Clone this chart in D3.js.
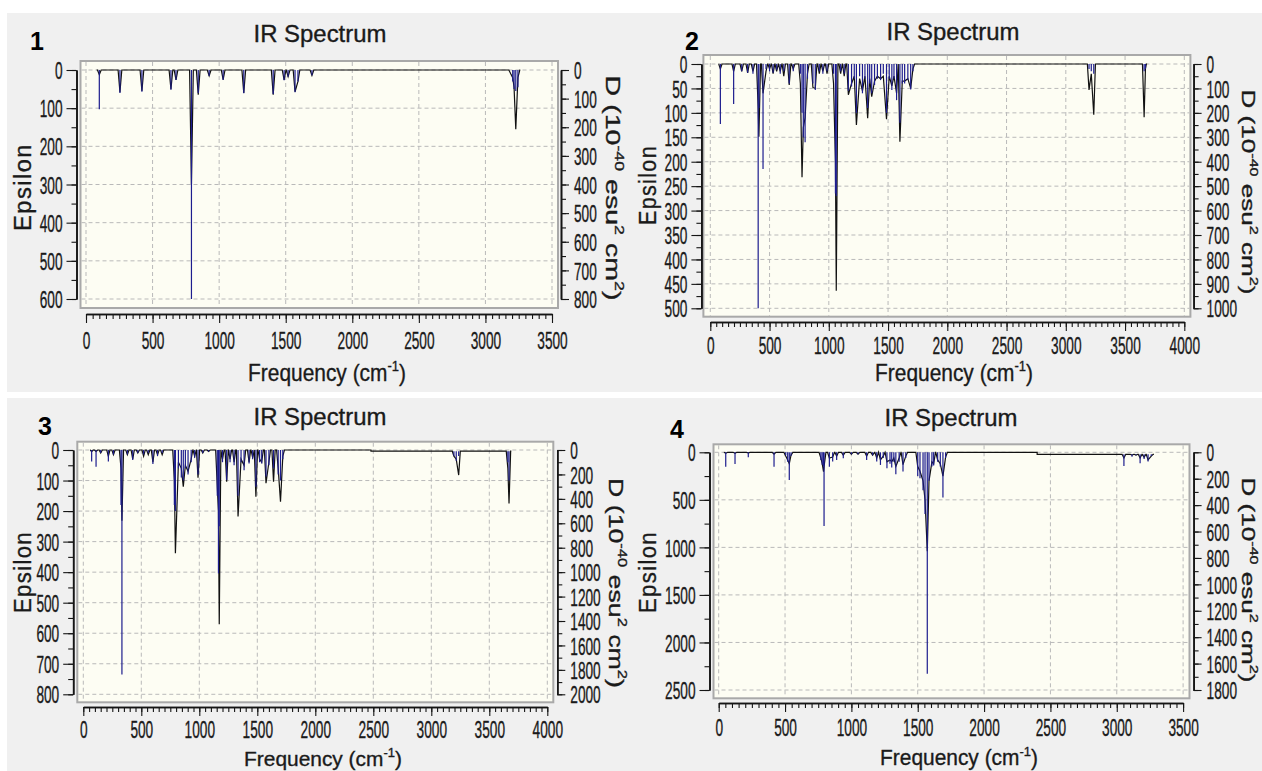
<!DOCTYPE html>
<html>
<head>
<meta charset="utf-8">
<script src="https://cdn.jsdelivr.net/npm/d3@7"></script>
<style>
  body { margin: 0; background: #fff; }
  svg { display: block; }
  text { font-family: "Liberation Sans", Arial, sans-serif; fill: #1a1a1a; }
  .heavy { stroke: #1a1a1a; stroke-width: 0.35px; }
</style>
</head>
<body>
<script>
// ---- data (frequency in cm-1, epsilon) ----
// 1
var freq1  = [100, 255, 420, 638, 676, 792, 843, 925, 1030, 1185, 1406, 1488, 1518, 1570, 1592, 1697, 3190, 3205, 3215, 3228, 3244];
var stick1 = [103, 60, 57, 52, 26, 600, 60, 16, 26, 61, 63, 27, 18, 58, 30, 14, 0, 30, 50, 55, 45];
var curve1 = [12, 58, 55, 50, 26, 300, 65, 15, 25, 60, 65, 26, 17, 57, 30, 14, 10, 20, 45, 155, 20];
var range1 = [80, 3262];
var step1  = [];
// 2
var freq2  = [85, 197, 265, 315, 360, 404, 410, 445, 470, 500, 530, 560, 590, 620, 666, 700, 760, 774, 785, 800, 820, 866, 886, 920, 950, 985, 1040, 1056, 1063, 1100, 1130, 1165, 1192, 1215, 1233, 1260, 1284, 1305, 1328, 1345, 1362, 1386, 1410, 1437, 1460, 1487, 1510, 1532, 1550, 1572, 1600, 1620, 1640, 1667, 1691, 1710, 3196, 3215, 3236, 3661, 3672];
var stick2 = [123, 82, 15, 18, 20, 500, 90, 215, 10, 15, 18, 12, 20, 15, 40, 15, 20, 100, 150, 160, 30, 40, 53, 15, 20, 15, 20, 265, 270, 15, 20, 55, 46, 30, 100, 25, 60, 30, 90, 40, 60, 43, 30, 33, 20, 100, 30, 53, 30, 74, 120, 40, 40, 33, 52, 15, 10, 15, 20, 15, 10];
var curve2 = [10, 15, 15, 18, 15, 90, 149, 60, 15, 10, 20, 15, 15, 25, 43, 10, 40, 232, 130, 110, 20, 48, 50, 20, 15, 20, 40, 200, 464, 20, 25, 63, 40, 25, 125, 30, 55, 25, 111, 30, 67, 35, 25, 30, 25, 113, 25, 45, 25, 60, 159, 35, 35, 30, 50, 10, 53, 20, 104, 109, 10];
var range2 = [70, 3680];
var step2  = [];
// 3
var freq3  = [72, 110, 150, 216, 260, 325, 333, 380, 426, 470, 520, 560, 600, 640, 680, 785, 794, 820, 845, 862, 880, 903, 930, 960, 989, 1030, 1080, 1155, 1165, 1172, 1200, 1236, 1265, 1300, 1334, 1360, 1386, 1429, 1460, 1488, 1520, 1538, 1575, 1600, 1640, 1680, 1700, 1720, 3195, 3215, 3236, 3660, 3670];
var stick3 = [38, 55, 10, 38, 15, 180, 735, 15, 33, 10, 15, 10, 46, 20, 10, 180, 200, 60, 90, 100, 60, 80, 40, 25, 80, 10, 5, 150, 404, 250, 40, 98, 40, 50, 150, 40, 66, 44, 30, 120, 40, 44, 87, 50, 60, 80, 100, 30, 20, 35, 20, 40, 100];
var curve3 = [5, 5, 10, 20, 15, 60, 232, 15, 30, 10, 20, 15, 40, 15, 15, 100, 338, 40, 60, 120, 50, 70, 30, 20, 91, 10, 5, 120, 200, 571, 30, 104, 30, 40, 218, 30, 50, 40, 25, 153, 30, 40, 109, 40, 104, 60, 169, 20, 20, 30, 82, 60, 175];
var range3 = [60, 3690];
var step3  = [[2480, 4]];
// 4
var freq4  = [53, 123, 223, 417, 505, 520, 532, 545, 770, 780, 790, 794, 834, 859, 889, 939, 1000, 1050, 1115, 1160, 1191, 1219, 1240, 1268, 1291, 1304, 1320, 1335, 1360, 1389, 1410, 1500, 1517, 1540, 1555, 1572, 1585, 1607, 1620, 1650, 1670, 1690, 1710, 3054, 3115, 3145, 3176, 3206, 3236, 3260];
var stick4 = [151, 123, 53, 151, 30, 100, 291, 40, 80, 130, 150, 775, 151, 98, 81, 63, 20, 20, 81, 30, 98, 133, 60, 168, 120, 161, 100, 231, 100, 203, 60, 250, 273, 400, 650, 2330, 300, 150, 140, 100, 150, 475, 60, 144, 46, 30, 116, 70, 98, 40];
var curve4 = [10, 10, 5, 20, 40, 80, 120, 30, 60, 120, 203, 150, 60, 50, 40, 30, 20, 20, 40, 30, 60, 80, 40, 100, 80, 100, 60, 150, 60, 130, 40, 150, 200, 300, 500, 1040, 300, 100, 120, 80, 120, 250, 50, 60, 30, 30, 60, 50, 80, 40];
var range4 = [40, 3280];
var step4  = [[2400, 21]];

// tick labels
var xTicks1 = [0, 500, 1000, 1500, 2000, 2500, 3000, 3500];
var xTicks2 = [0, 500, 1000, 1500, 2000, 2500, 3000, 3500, 4000];
var epsTicks1 = [0, 100, 200, 300, 400, 500, 600];
var epsTicks2 = [0, 50, 100, 150, 200, 250, 300, 350, 400, 450, 500];
var epsTicks3 = [0, 100, 200, 300, 400, 500, 600, 700, 800];
var epsTicks4 = [0, 500, 1000, 1500, 2000, 2500];
var dTicks1 = [0, 100, 200, 300, 400, 500, 600, 700, 800];
var dTicks2 = [0, 100, 200, 300, 400, 500, 600, 700, 800, 900, 1000];
var dTicks3 = [0, 200, 400, 600, 800, 1000, 1200, 1400, 1600, 1800, 2000];
var dTicks4 = [0, 200, 400, 600, 800, 1000, 1200, 1400, 1600, 1800];

// ---- layout ----
var W = 1262, H = 771;
var tickFont = 24, squeeze = 0.57, hw = 14;

var panels = [
  { num: "1", freq: freq1, stick: stick1, curve: curve1, range: range1, step: step1,
    xTicks: xTicks1, epsTicks: epsTicks1, dTicks: dTicks1, xMinor: 50, epsMinor: 50, dMinor: 50,
    box: [80.5, 61, 558, 308], xr: [86, 552], yr: [70, 299], leftX: 76.5, rightX: 561, bottomY: 314, xLabOff: 26,
    title: [320, 42], numPos: [30, 50], eps: [31, 187, 88], dLab: [606, 188, 225, 21], freqLab: [327, 381, 24] },
  { num: "2", freq: freq2, stick: stick2, curve: curve2, range: range2, step: step2,
    xTicks: xTicks2, epsTicks: epsTicks2, dTicks: dTicks2, xMinor: 50, epsMinor: 25, dMinor: 50,
    box: [703.4, 55, 1190.4, 316.7], xr: [710.3, 1184.3], yr: [64, 308.3], leftX: 701.4, rightX: 1193.6, bottomY: 322, xLabOff: 23,
    title: [953, 40], numPos: [685, 50], eps: [656, 185, 80], dLab: [1242, 192, 205, 19], freqLab: [954, 381, 24] },
  { num: "3", freq: freq3, stick: stick3, curve: curve3, range: range3, step: step3,
    xTicks: xTicks2, epsTicks: epsTicks3, dTicks: dTicks3, xMinor: 50, epsMinor: 50, dMinor: 100,
    box: [77.3, 441.7, 553.3, 702.3], xr: [83.3, 547.3], yr: [450, 694.3], leftX: 73.2, rightX: 557.3, bottomY: 707, xLabOff: 22,
    title: [320, 425], numPos: [38, 435], eps: [31, 572, 82], dLab: [609, 583, 210, 21], freqLab: [323, 766, 21] },
  { num: "4", freq: freq4, stick: stick4, curve: curve4, range: range4, step: step4,
    xTicks: xTicks1, epsTicks: epsTicks4, dTicks: dTicks4, xMinor: 50, epsMinor: 250, dMinor: 100,
    box: [713.5, 444.3, 1189.5, 698.3], xr: [718.7, 1183.1], yr: [452.3, 690], leftX: 709.5, rightX: 1193.6, bottomY: 703, xLabOff: 24,
    title: [951, 426], numPos: [670, 438], eps: [656, 572, 82], dLab: [1242, 580, 205, 19], freqLab: [959, 765, 22] }
];

var svg = d3.select("body").append("svg").attr("width", W).attr("height", H);
svg.append("rect").attr("width", W).attr("height", H).attr("fill", "#fff");
svg.append("rect").attr("x", 7).attr("y", 13).attr("width", W - 7).attr("height", 379).attr("fill", "#f0f0f0");
svg.append("rect").attr("x", 7).attr("y", 398).attr("width", W - 7).attr("height", H - 398).attr("fill", "#f0f0f0");

// text made of pieces; pieces marked sup are raised and smaller,
// the piece after a sup drops back to the baseline
function richText(g, parts, size) {
  var t = g.append("text").attr("font-size", size).attr("class", "heavy");
  var raised = false;
  parts.forEach(function(p) {
    var ts = t.append("tspan").text(p.s);
    if (p.sup) {
      ts.attr("font-size", size * 0.62).attr("dy", -size * 0.42);
      raised = true;
    } else if (raised) {
      ts.attr("dy", size * 0.42);
      raised = false;
    }
  });
  return t;
}

// squeeze/stretch a text to a given length along its own direction
function fitLength(t, x, y, rot, len) {
  var w = t.node().getComputedTextLength();
  t.attr("transform", "translate(" + x + "," + y + ") rotate(" + rot + ") scale(" + (len / w) + ",1)");
}

function squeezeTicks(axisG, yOverride) {
  axisG.selectAll("text").each(function() {
    var t = d3.select(this);
    var tx = +t.attr("x") || 0;
    var ty = yOverride != null ? yOverride : (+t.attr("y") || 0);
    t.attr("x", null).attr("y", null).attr("dy", "0.36em")
      .attr("font-size", tickFont).attr("class", "heavy")
      .attr("transform", "translate(" + tx + "," + ty + ") scale(" + squeeze + ",1)");
  });
}

function styleAxis(axisG) {
  axisG.attr("color", "#151515").attr("font-size", null).attr("font-family", null);
  axisG.select(".domain").attr("stroke-width", 1.6);
  axisG.selectAll(".tick line").attr("stroke-width", 1.1);
}

// minor tick marks only (no labels)
function minorAxis(axisG) {
  styleAxis(axisG);
  axisG.selectAll(".tick text").remove();
}

var fmt = d3.format("d");

panels.forEach(function(p) {
  var g = svg.append("g");
  var xMax = p.xTicks[p.xTicks.length - 1];
  var epsMax = p.epsTicks[p.epsTicks.length - 1];
  var dMax = p.dTicks[p.dTicks.length - 1];
  var x = d3.scaleLinear().domain([0, xMax]).range(p.xr);
  var y = d3.scaleLinear().domain([0, epsMax]).range(p.yr);
  var yD = d3.scaleLinear().domain([0, dMax]).range(p.yr);
  var b = p.box;

  // plot area
  g.append("rect").attr("x", b[0]).attr("y", b[1]).attr("width", b[2] - b[0]).attr("height", b[3] - b[1])
    .attr("fill", "#fdfdf3").attr("stroke", "#a9a9a9").attr("stroke-width", 2);

  // grid
  g.append("g").selectAll("line").data(p.xTicks).join("line")
    .attr("x1", function(d) { return x(d); }).attr("x2", function(d) { return x(d); })
    .attr("y1", b[1] + 1).attr("y2", b[3] - 1)
    .attr("stroke", "#b9b9b9").attr("stroke-dasharray", "4,3");
  g.append("g").selectAll("line").data(p.epsTicks).join("line")
    .attr("y1", function(d) { return y(d); }).attr("y2", function(d) { return y(d); })
    .attr("x1", b[0] + 1).attr("x2", b[2] - 1)
    .attr("stroke", "#b9b9b9").attr("stroke-dasharray", "4,3");

  // baseline level (small steps in the broadened curve)
  function base(f) {
    var v = 0;
    p.step.forEach(function(s) { if (f >= s[0]) v = s[1]; });
    return v;
  }

  // broadened curve: a narrow dip at each band
  var pts = [[p.range[0], base(p.range[0])]];
  var dips = p.freq.map(function(f, i) { return [f, p.curve[i]]; }).filter(function(d) { return d[1] > 0; });
  dips.forEach(function(d, i) {
    var prev = dips[i - 1], next = dips[i + 1];
    if (!prev || d[0] - prev[0] >= 2 * hw) pts.push([d[0] - hw, base(d[0] - hw)]);
    pts.push([d[0], Math.max(d[1], base(d[0]))]);
    if (!next || next[0] - d[0] >= 2 * hw) pts.push([d[0] + hw, base(d[0] + hw)]);
  });
  p.step.forEach(function(s) {
    pts.push([s[0], base(s[0] - 1)]);
    pts.push([s[0], s[1]]);
  });
  pts.push([p.range[1], base(p.range[1])]);
  pts.sort(function(a, c) { return a[0] - c[0]; });

  var line = d3.line().x(function(d) { return x(d[0]); }).y(function(d) { return y(d[1]); });
  g.append("path").datum(pts).attr("d", line)
    .attr("fill", "none").attr("stroke", "#111").attr("stroke-width", 1.2);

  // sticks
  g.append("g").selectAll("line").data(p.freq.map(function(f, i) { return [f, p.stick[i]]; }).filter(function(d) { return d[1] > 0; }))
    .join("line")
    .attr("x1", function(d) { return x(d[0]); }).attr("x2", function(d) { return x(d[0]); })
    .attr("y1", function(d) { return y(base(d[0])); }).attr("y2", function(d) { return y(d[1]); })
    .attr("stroke", "#1d1d8e").attr("stroke-width", 1.2);

  // left axis (epsilon)
  var lm = g.append("g").attr("transform", "translate(" + p.leftX + ",0)")
    .call(d3.axisLeft(y).tickValues(d3.range(0, epsMax + 1e-9, p.epsMinor)).tickSize(5).tickSizeOuter(0));
  minorAxis(lm);
  var la = g.append("g").attr("transform", "translate(" + p.leftX + ",0)")
    .call(d3.axisLeft(y).tickValues(p.epsTicks).tickFormat(fmt).tickSize(10).tickSizeOuter(0).tickPadding(4));
  styleAxis(la); squeezeTicks(la);

  // right axis (D)
  var rm = g.append("g").attr("transform", "translate(" + p.rightX + ",0)")
    .call(d3.axisRight(yD).tickValues(d3.range(0, dMax + 1e-9, p.dMinor)).tickSize(5).tickSizeOuter(0));
  minorAxis(rm);
  var ra = g.append("g").attr("transform", "translate(" + p.rightX + ",0)")
    .call(d3.axisRight(yD).tickValues(p.dTicks).tickFormat(fmt).tickSize(8).tickSizeOuter(0).tickPadding(5));
  styleAxis(ra); squeezeTicks(ra);

  // bottom axis (frequency)
  var bm = g.append("g").attr("transform", "translate(0," + p.bottomY + ")")
    .call(d3.axisBottom(x).tickValues(d3.range(0, xMax + 1e-9, p.xMinor)).tickSize(5).tickSizeOuter(0));
  minorAxis(bm);
  var ba = g.append("g").attr("transform", "translate(0," + p.bottomY + ")")
    .call(d3.axisBottom(x).tickValues(p.xTicks).tickFormat(fmt).tickSize(9).tickSizeOuter(0));
  styleAxis(ba); squeezeTicks(ba, p.xLabOff);

  // title and panel number
  var tt = g.append("text").attr("font-size", 24).attr("text-anchor", "middle").attr("class", "heavy").text("IR Spectrum");
  fitLength(tt, p.title[0], p.title[1], 0, 133);
  g.append("text").attr("x", p.numPos[0]).attr("y", p.numPos[1])
    .attr("font-family", "'Liberation Serif', 'Times New Roman', serif").attr("font-weight", "bold")
    .attr("font-size", 25).style("fill", "#000").text(p.num);

  // axis titles
  var et = g.append("text").attr("font-size", 24).attr("text-anchor", "middle").attr("class", "heavy")
    .attr("letter-spacing", 1.5).text("Epsilon");
  fitLength(et, p.eps[0], p.eps[1], -90, p.eps[2]);

  var dt = richText(g, [{ s: "D (10" }, { s: "-40", sup: true }, { s: " esu" }, { s: "2", sup: true },
    { s: " cm" }, { s: "2", sup: true }, { s: ")" }], p.dLab[3]).attr("text-anchor", "middle");
  fitLength(dt, p.dLab[0], p.dLab[1], 90, p.dLab[2]);

  var ft = richText(g, [{ s: "Frequency (cm" }, { s: "-1", sup: true }, { s: ")" }], p.freqLab[2]).attr("text-anchor", "middle");
  fitLength(ft, p.freqLab[0], p.freqLab[1], 0, 158);
});
</script>
</body>
</html>
